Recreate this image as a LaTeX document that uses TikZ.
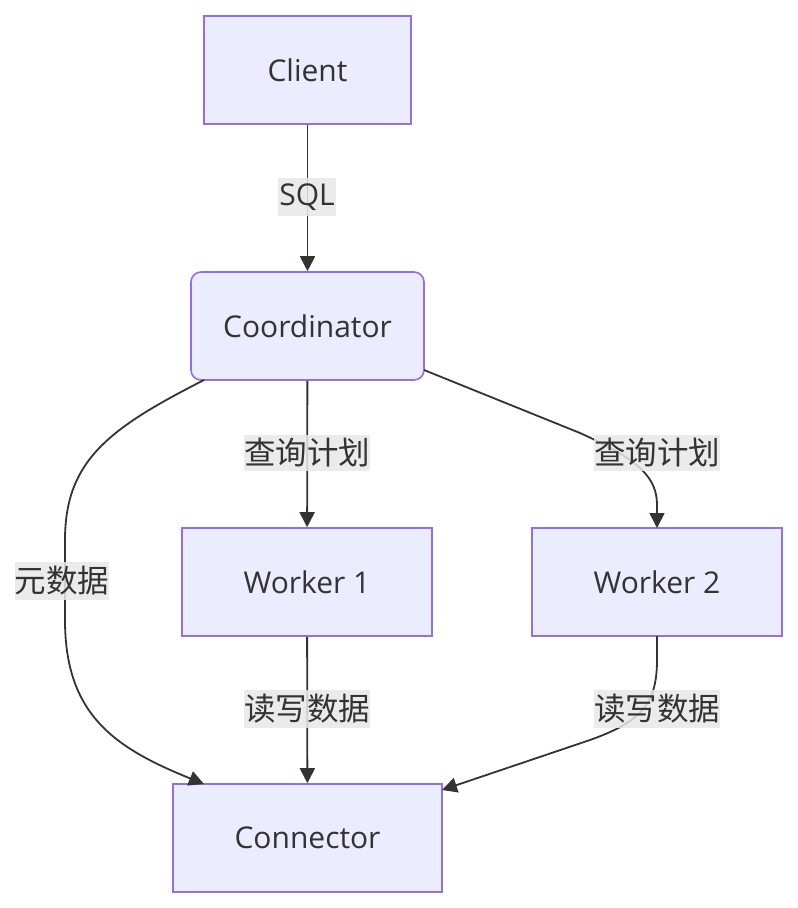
\documentclass[tikz,border=0pt]{standalone}
\usepackage{fontspec}
\setmainfont{Open Sans}
\newfontfamily\cjk{Noto Sans CJK SC}
\usetikzlibrary{arrows.meta}
\definecolor{nodefill}{HTML}{ECECFF}
\definecolor{nodeline}{HTML}{9370DB}
\definecolor{ink}{HTML}{333333}
\definecolor{lblbg}{HTML}{E8E8E8}
\tikzset{
  box/.style={draw=nodeline, fill=nodefill, line width=1.6pt, text=ink, inner sep=0pt,
    font=\fontsize{30}{36}\selectfont},
  edge/.style={draw=ink, line width=1.8pt, -{Triangle[length=15pt,width=15pt]}},
  lbl/.style={fill=lblbg, fill opacity=0.85, text opacity=1, text=ink, inner xsep=0pt, inner ysep=4pt,
    font=\cjk\fontsize{31.5}{36}\selectfont},
  lbll/.style={fill=lblbg, fill opacity=0.85, text opacity=1, text=ink, inner xsep=1pt, inner ysep=6pt,
    font=\fontsize{30}{36}\selectfont},
}
\begin{document}
\begin{tikzpicture}[x=1pt,y=-1pt]
\useasboundingbox (0,0) rectangle (798,908);
\node[box, minimum width=207pt, minimum height=108pt] (client) at (307.5,70) {Client};
\node[box, rounded corners=10pt, minimum width=233pt, minimum height=108pt] (coord) at (307.5,326) {Coordinator};
\node[box, minimum width=250pt, minimum height=108pt] (w1) at (307,582) {Worker 1};
\node[box, minimum width=250pt, minimum height=108pt] (w2) at (657,582) {Worker 2};
\node[box, minimum width=269pt, minimum height=108pt] (conn) at (307.5,838) {Connector};

\coordinate (cbl) at (204,380);
\coordinate (cbr) at (424,370);
\coordinate (connl) at (204,784);
\coordinate (connr) at (442,790);
\coordinate (w2top) at (657,528);
\coordinate (w2bot) at (657,636);

\draw[edge] (client) -- (coord);
\draw[edge] (coord) -- (w1);
\draw[edge] (w1) -- (conn);
\draw[edge] (cbl) .. controls (110,428) and (65,460) .. (65,540) -- (65,620) .. controls (65,715) and (115,748) .. (connl);
\draw[edge] (cbr) -- (580,433) .. controls (640,460) and (657,478) .. (657,505) -- (w2top);
\draw[edge] (w2bot) -- (657,660) .. controls (657,705) and (640,722) .. (590,740) -- (connr);

\node[lbll] (l1) at (307,197) {SQL};
\node[lbl] (l2) at (307,453) {查询计划};
\node[lbl] (l3) at (657,453) {查询计划};
\node[lbl] (l4) at (62,581) {元数据};
\node[lbl] (l5) at (307,709) {读写数据};
\node[lbl] (l6) at (657,709) {读写数据};
\end{tikzpicture}
\end{document}
